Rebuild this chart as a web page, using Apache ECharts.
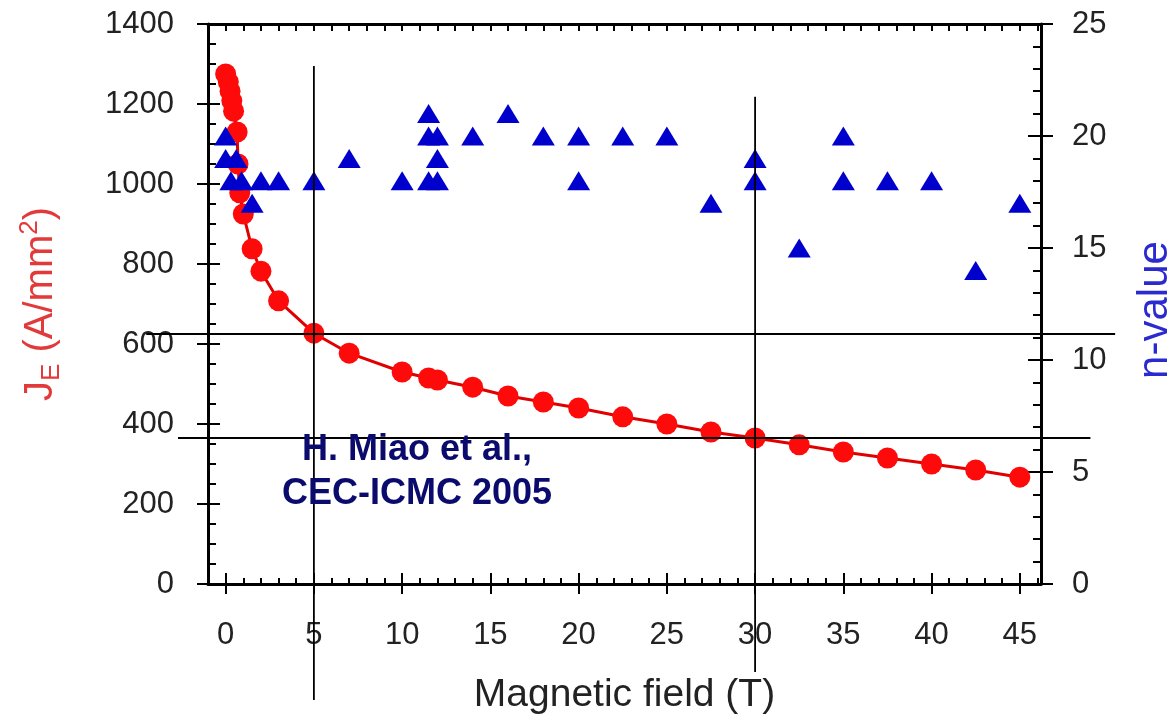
<!DOCTYPE html>
<html>
<head>
<meta charset="utf-8">
<title>J_E and n-value vs magnetic field</title>
<script src="https://cdn.jsdelivr.net/npm/echarts@6/dist/echarts.min.js"></script>
<style>
  html, body { margin: 0; padding: 0; background: #ffffff; }
  #chart { width: 1176px; height: 717px; }
</style>
</head>
<body>
<div id="chart"></div>
<script>
// Engineering current density J_E (A/mm^2) vs applied field (T)
const fieldJ = [0, 0.15, 0.25, 0.35, 0.45, 0.65, 0.7, 0.8, 1.0, 1.5, 2, 3, 5, 7, 10, 11.5, 12, 14, 16, 18, 20, 22.5, 25, 27.5, 30, 32.5, 35, 37.5, 40, 42.5, 45];
const currentDensity = [1275, 1255, 1232, 1208, 1182, 1130, 1050, 978, 925, 838, 782, 708, 627, 577, 530, 515, 510, 492, 470, 455, 440, 418, 400, 380, 365, 348, 330, 315, 300, 285, 267];

// n-value vs applied field (T)
const fieldN = [0, 0, 0.6, 0.3, 0.9, 1.5, 2, 3, 5, 7, 10, 11.5, 11.5, 11.5, 12, 12, 12, 14, 16, 18, 20, 20, 22.5, 25, 27.5, 30, 30, 32.5, 35, 35, 37.5, 40, 42.5, 45];
const nValue = [20, 19, 19, 18, 18, 17, 18, 18, 18, 19, 18, 21, 20, 18, 20, 19, 18, 20, 21, 20, 20, 18, 20, 20, 17, 19, 18, 15, 20, 18, 18, 18, 14, 17];

// Tick labels
const fieldTicks = [0, 5, 10, 15, 20, 25, 30, 35, 40, 45];

const guideLines = [
  [[-4.5, 625], [50.4, 625]],
  [[-2.7, 365], [49.0, 365]],
  [[5, 1295], [5, -290]],
  [[30, 1218], [30, -220]]
];

const FONT = "'Liberation Sans', Arial, Helvetica, sans-serif";
const AX = { color: '#000', width: 3 };
const TK = { color: '#000', width: 2 };
const X_MIN = -1, X_MAX = 46.2;
const plain = (v) => String(v);

const jSeries = fieldJ.map((b, i) => [b, currentDensity[i]]);
const nSeries = fieldN.map((b, i) => [b, nValue[i]]);

const chart = echarts.init(document.getElementById('chart'), null, { renderer: 'canvas' });

const hidden = { show: false };

chart.setOption({
  animation: false,
  backgroundColor: '#ffffff',
  grid: { left: 208, right: 135, top: 24, bottom: 133, containLabel: false, outerBoundsMode: 'none' },
  xAxis: [
    { // bottom: labels, line, outward major ticks
      type: 'value', position: 'bottom', min: X_MIN, max: X_MAX,
      axisLine: { show: true, onZero: false, lineStyle: AX },
      axisTick: { show: true, inside: false, length: 10, customValues: fieldTicks, lineStyle: TK },
      axisLabel: { show: true, customValues: fieldTicks, formatter: plain, fontSize: 31, fontFamily: FONT, color: '#222', margin: 36 },
      splitLine: hidden,
      name: 'Magnetic field (T)', nameLocation: 'middle', nameGap: 92,
      nameTextStyle: { fontSize: 39, fontFamily: FONT, color: '#222' }
    },
    { // bottom: inward major ticks
      type: 'value', position: 'bottom', min: X_MIN, max: X_MAX,
      axisLine: { show: false, onZero: false },
      axisTick: { show: true, inside: true, length: 11, customValues: fieldTicks, lineStyle: TK },
      axisLabel: hidden, splitLine: hidden
    },
    { // bottom: inward minor ticks, every 1 T
      type: 'value', position: 'bottom', min: X_MIN, max: X_MAX, interval: 1,
      axisLine: { show: false, onZero: false },
      axisTick: { show: true, inside: true, length: 6, lineStyle: TK },
      axisLabel: hidden, splitLine: hidden
    },
    { // top frame with minor ticks
      type: 'value', position: 'top', min: X_MIN, max: X_MAX, interval: 1,
      axisLine: { show: true, onZero: false, lineStyle: AX },
      axisTick: { show: true, inside: true, length: 7, lineStyle: TK },
      axisLabel: hidden, splitLine: hidden
    }
  ],
  yAxis: [
    { // left: J_E
      type: 'value', position: 'left', min: 0, max: 1400, interval: 200,
      axisLine: { show: true, onZero: false, lineStyle: AX },
      axisTick: { show: true, inside: false, length: 11, lineStyle: TK },
      axisLabel: { show: true, formatter: plain, fontSize: 31, fontFamily: FONT, color: '#222', margin: 34 },
      splitLine: hidden,
      name: 'J{sub|E} (A/mm{sup|2})', nameLocation: 'middle', nameRotate: 90, nameGap: 143,
      nameTextStyle: {
        fontSize: 40, fontFamily: FONT, color: '#e23a3a', lineHeight: 48,
        rich: {
          sub: { fontSize: 26, fontFamily: FONT, color: '#e23a3a', verticalAlign: 'bottom', lineHeight: 26 },
          sup: { fontSize: 26, fontFamily: FONT, color: '#e23a3a', verticalAlign: 'top', lineHeight: 26 }
        }
      }
    },
    { // right: n-value
      type: 'value', position: 'right', min: 0, max: 25, interval: 5,
      axisLine: { show: true, onZero: false, lineStyle: AX },
      axisTick: { show: true, inside: false, length: 12, lineStyle: TK },
      axisLabel: { show: true, formatter: plain, fontSize: 31, fontFamily: FONT, color: '#222', margin: 31 },
      splitLine: hidden,
      name: 'n-value', nameLocation: 'middle', nameRotate: 90, nameGap: 93,
      nameTextStyle: { fontSize: 42, fontFamily: FONT, color: '#2a2ad0', padding: [0, 12, 0, 0] }
    },
    { // left: inward major + minor ticks
      type: 'value', position: 'left', min: 0, max: 1400, interval: 200,
      axisLine: { show: false, onZero: false },
      axisTick: { show: true, inside: true, length: 12, lineStyle: TK },
      minorTick: { show: true, splitNumber: 4, length: 8, lineStyle: TK },
      axisLabel: hidden, splitLine: hidden, minorSplitLine: hidden
    },
    { // right: inward major + minor ticks
      type: 'value', position: 'right', min: 0, max: 25, interval: 5,
      axisLine: { show: false, onZero: false },
      axisTick: { show: true, inside: true, length: 13, lineStyle: TK },
      minorTick: { show: true, splitNumber: 5, length: 8, lineStyle: TK },
      axisLabel: hidden, splitLine: hidden, minorSplitLine: hidden
    }
  ],
  series: [
    {
      type: 'line', name: 'J_E', xAxisIndex: 0, yAxisIndex: 0,
      data: jSeries, clip: false,
      symbol: 'circle', symbolSize: 21,
      itemStyle: { color: '#ff0a0a', opacity: 1 },
      lineStyle: { color: '#e00000', width: 3 },
      z: 3
    },
    {
      type: 'scatter', name: 'n-value', xAxisIndex: 0, yAxisIndex: 1,
      data: nSeries, clip: false,
      symbol: 'triangle', symbolSize: [23, 19],
      itemStyle: { color: '#0000cc', opacity: 1 },
      z: 4
    }
  ]
});

// Guide lines and citation, placed through the J_E axes
const toPx = (p) => chart.convertToPixel({ xAxisIndex: 0, yAxisIndex: 0 }, p);
const guideElements = guideLines.map((seg, i) => {
  const a = toPx(seg[0]);
  const b = toPx(seg[1]);
  return {
    type: 'line', id: 'guide' + i, z: 50, silent: true,
    shape: { x1: a[0], y1: a[1], x2: b[0], y2: b[1] },
    style: { stroke: '#000', lineWidth: 1.8 }
  };
});

chart.setOption({
  graphic: guideElements.concat([
    {
      type: 'text', id: 'citation', x: 417, y: 428, z: 60,
      style: {
        text: 'H. Miao et al.,\nCEC-ICMC 2005',
        align: 'center', verticalAlign: 'top',
        font: "bold 36px " + FONT, fill: '#0b0b6e', lineHeight: 44
      }
    }
  ])
});
</script>
</body>
</html>
